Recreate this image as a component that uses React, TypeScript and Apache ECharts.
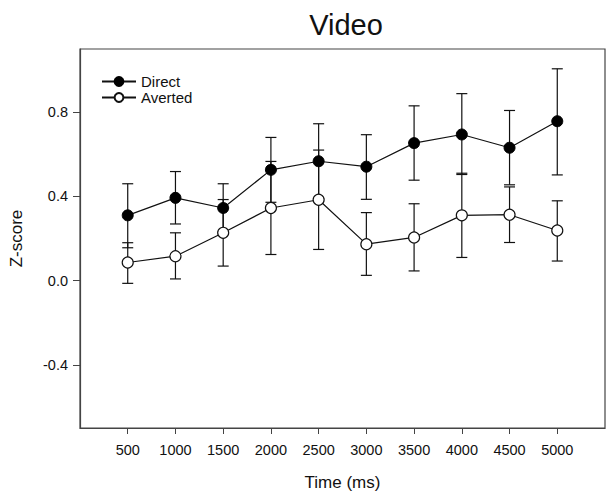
import React, { useEffect, useRef } from "react";
import * as echarts from "echarts";

const times = [500, 1000, 1500, 2000, 2500, 3000, 3500, 4000, 4500, 5000];
const directMean = [0.31, 0.393, 0.345, 0.526, 0.567, 0.541, 0.653, 0.694, 0.631, 0.757];
const directUpper = [0.46, 0.518, 0.46, 0.68, 0.745, 0.693, 0.83, 0.888, 0.808, 1.006];
const directLower = [0.156, 0.269, 0.23, 0.372, 0.389, 0.386, 0.477, 0.504, 0.455, 0.502];
const avertedMean = [0.086, 0.116, 0.227, 0.345, 0.384, 0.173, 0.205, 0.31, 0.313, 0.238];
const avertedUpper = [0.18, 0.227, 0.385, 0.566, 0.62, 0.323, 0.365, 0.51, 0.445, 0.379];
const avertedLower = [-0.013, 0.008, 0.069, 0.124, 0.148, 0.025, 0.046, 0.11, 0.181, 0.093];
const yTicks = [-0.4, 0, 0.4, 0.8];
const xTicks = [500, 1000, 1500, 2000, 2500, 3000, 3500, 4000, 4500, 5000];

const FONT = "'Liberation Sans', Arial, sans-serif";

function errorSeries(lower: number[], upper: number[]) {
  return {
    type: "custom",
    z: 1,
    silent: true,
    data: times.map((t, i) => [t, lower[i], upper[i]]),
    encode: { x: 0, y: [1, 2] },
    renderItem: (params: any, api: any) => {
      const x = api.value(0);
      const lo = api.coord([x, api.value(1)]);
      const hi = api.coord([x, api.value(2)]);
      const hw = 5.5;
      const style = { stroke: "#111", lineWidth: 1.2 };
      return {
        type: "group",
        children: [
          { type: "line", shape: { x1: lo[0], y1: lo[1], x2: hi[0], y2: hi[1] }, style },
          { type: "line", shape: { x1: lo[0] - hw, y1: lo[1], x2: lo[0] + hw, y2: lo[1] }, style },
          { type: "line", shape: { x1: hi[0] - hw, y1: hi[1], x2: hi[0] + hw, y2: hi[1] }, style },
        ],
      };
    },
  };
}

export default function App() {
  const ref = useRef<HTMLDivElement>(null);
  useEffect(() => {
    if (!ref.current) return;
    const chart = echarts.init(ref.current, undefined, { renderer: "svg" });
    chart.setOption({
      animation: false,
      backgroundColor: "#fff",
      title: {
        text: "Video",
        left: 341,
        top: 5,
        textAlign: "center",
        textStyle: { fontFamily: FONT, fontSize: 29, fontWeight: "normal", color: "#111" },
      },
      legend: {
        orient: "vertical",
        left: 96,
        top: 69,
        itemWidth: 34,
        itemHeight: 11,
        itemGap: 1,
        textStyle: { fontFamily: FONT, fontSize: 15, color: "#111" },
        data: ["Direct", "Averted"],
      },
      grid: {
        left: 76,
        right: 2,
        top: 49,
        bottom: 67,
        show: true,
        borderColor: "#444",
        borderWidth: 1.2,
        backgroundColor: "transparent",
      },
      xAxis: {
        type: "value",
        min: 0,
        max: 5500,
        name: "Time (ms)",
        nameLocation: "middle",
        nameGap: 46,
        nameTextStyle: { fontFamily: FONT, fontSize: 17, color: "#111" },
        axisLine: { onZero: false, lineStyle: { color: "#444", width: 1.2 } },
        axisTick: { customValues: xTicks, length: 6, lineStyle: { color: "#444" } },
        axisLabel: {
          customValues: xTicks,
          margin: 14,
          fontFamily: FONT,
          fontSize: 14.5,
          color: "#111",
          formatter: (v: number) => String(v),
        },
        splitLine: { show: false },
      },
      yAxis: {
        type: "value",
        min: -0.7,
        max: 1.1,
        name: "Z-score",
        nameLocation: "middle",
        nameGap: 55,
        nameRotate: 90,
        nameTextStyle: { fontFamily: FONT, fontSize: 17, color: "#111" },
        axisLine: { show: true, onZero: false, lineStyle: { color: "#444", width: 1.2 } },
        axisTick: { show: true, customValues: yTicks, length: 7, lineStyle: { color: "#444" } },
        axisLabel: {
          customValues: yTicks,
          margin: 12,
          fontFamily: FONT,
          fontSize: 14.5,
          color: "#111",
          formatter: (v: number) => v.toFixed(1),
        },
        splitLine: { show: false },
      },
      series: [
        errorSeries(directLower, directUpper),
        errorSeries(avertedLower, avertedUpper),
        {
          name: "Direct",
          type: "line",
          z: 3,
          data: times.map((t, i) => [t, directMean[i]]),
          symbol: "circle",
          symbolSize: 11,
          lineStyle: { color: "#111", width: 1.2 },
          itemStyle: { color: "#000", borderColor: "#000", borderWidth: 1 },
        },
        {
          name: "Averted",
          type: "line",
          z: 3,
          data: times.map((t, i) => [t, avertedMean[i]]),
          symbol: "circle",
          symbolSize: 11,
          lineStyle: { color: "#111", width: 1.2 },
          itemStyle: { color: "#fff", borderColor: "#111", borderWidth: 1.2 },
        },
      ],
    });
    return () => chart.dispose();
  }, []);
  return <div ref={ref} style={{ width: 607, height: 496, position: "absolute", left: 0, top: 0 }} />;
}
